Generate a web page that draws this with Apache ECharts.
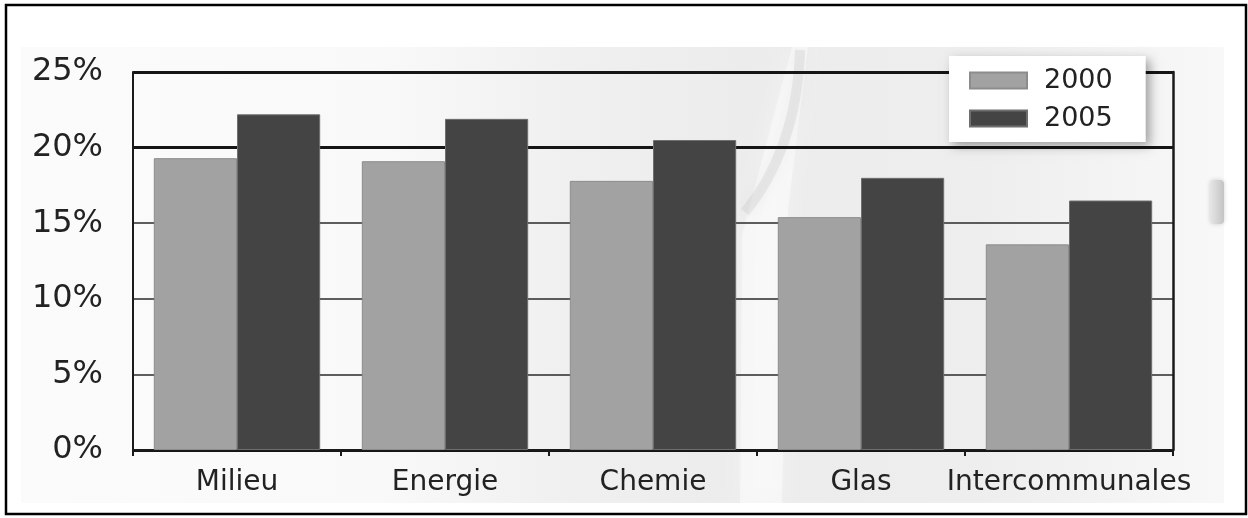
<!DOCTYPE html>
<html>
<head>
<meta charset="utf-8">
<title>2000 / 2005</title>
<script src="https://cdn.jsdelivr.net/npm/echarts@6/dist/echarts.min.js"></script>
<style>
  html, body { margin: 0; padding: 0; background: #ffffff; }
  #chart { width: 1248px; height: 518px; }
</style>
</head>
<body>
<div id="chart"></div>
<script>
// Sector categories and shares (percent) for the two years
const categories = ['Milieu', 'Energie', 'Chemie', 'Glas', 'Intercommunales'];
const share2000 = [19.3, 19.1, 17.8, 15.4, 13.6];
const share2005 = [22.2, 21.9, 20.5, 18.0, 16.5];
const seriesNames = ['2000', '2005'];

const FONT = 'DejaVu Sans';
const INK = '#222222';

const chart = echarts.init(document.getElementById('chart'), null, { renderer: 'canvas' });

chart.setOption({
  animation: false,
  backgroundColor: '#ffffff',
  textStyle: { fontFamily: FONT },
  graphic: {
    elements: [
      // soft grey backdrop panel behind the chart
      {
        type: 'rect', z: -20, silent: true,
        shape: { x: 21, y: 47, width: 1203, height: 456 },
        style: {
          fill: {
            type: 'linear', x: 0, y: 0, x2: 1, y2: 0,
            colorStops: [
              { offset: 0, color: '#fbfbfb' },
              { offset: 0.3, color: '#f9f9f9' },
              { offset: 0.45, color: '#f0f0f0' },
              { offset: 0.6, color: '#ececec' },
              { offset: 0.8, color: '#eeeeee' },
              { offset: 0.92, color: '#f4f4f4' },
              { offset: 1, color: '#f8f8f8' }
            ]
          }
        }
      },
      // light highlight band in the middle of the backdrop
      {
        type: 'polygon', z: -19, silent: true,
        shape: { points: [[792, 47], [808, 47], [788, 210], [782, 503], [740, 503], [742, 235]] },
        style: { fill: 'rgba(255,255,255,0.45)', shadowBlur: 20, shadowColor: 'rgba(255,255,255,0.7)' }
      },
      // soft darker streak curving down from the top edge
      {
        type: 'bezierCurve', z: -18, silent: true,
        shape: { x1: 800, y1: 50, x2: 745, y2: 212, cpx1: 798, cpy1: 120, cpx2: 776, cpy2: 175 },
        style: { stroke: 'rgba(175,175,175,0.2)', lineWidth: 10, fill: null, shadowBlur: 14, shadowColor: 'rgba(160,160,160,0.45)' }
      },
      // small grey patch near the right edge
      {
        type: 'rect', z: -18, silent: true,
        shape: { x: 1210, y: 180, width: 14, height: 44, r: 4 },
        style: {
          fill: {
            type: 'linear', x: 0, y: 0, x2: 1, y2: 0,
            colorStops: [{ offset: 0, color: '#e6e6e6' }, { offset: 1, color: '#c4c4c4' }]
          },
          shadowBlur: 4, shadowColor: 'rgba(180,180,180,0.6)'
        }
      },
      // black frame around the whole figure
      {
        type: 'rect', z: 100, silent: true,
        shape: { x: 6, y: 5, width: 1240, height: 509 },
        style: { fill: null, stroke: '#000000', lineWidth: 2.5 }
      }
    ]
  },
  legend: {
    data: seriesNames,
    orient: 'vertical',
    left: 949,
    top: 56,
    padding: [11, 33, 10, 20],
    itemWidth: 57,
    itemHeight: 16,
    itemGap: 11,
    icon: 'rect',
    backgroundColor: '#ffffff',
    shadowColor: 'rgba(0,0,0,0.35)',
    shadowBlur: 10,
    shadowOffsetX: 4,
    shadowOffsetY: 4,
    z: 10,
    textStyle: {
      fontFamily: FONT, fontSize: 27, color: INK,
      padding: [0, 0, 3, 12]
    }
  },
  grid: { left: 133, right: 75, top: 72, bottom: 68, containLabel: false },
  xAxis: {
    type: 'category',
    data: categories,
    boundaryGap: true,
    axisLine: { show: true, lineStyle: { color: '#1a1a1a', width: 2 } },
    axisTick: { show: true, length: 6, lineStyle: { color: '#1a1a1a', width: 2 } },
    axisLabel: { fontFamily: FONT, fontSize: 28, color: INK, margin: 19, interval: 0 },
    splitLine: { show: false }
  },
  yAxis: [
    {
      type: 'value',
      min: 0, max: 25, interval: 5,
      axisLine: { show: true, lineStyle: { color: '#1a1a1a', width: 2 } },
      axisTick: { show: false },
      axisLabel: {
        fontFamily: FONT, fontSize: 32, color: INK, margin: 30,
        formatter: function (v) { return v + '%'; }
      },
      splitLine: { show: true, lineStyle: { color: '#2a2a2a', width: 1.5 } }
    },
    {
      // right-hand frame line plus the heavier 20% and 25% rules
      type: 'value',
      position: 'right',
      min: 0, max: 25, interval: 20,
      axisLine: { show: true, lineStyle: { color: '#1a1a1a', width: 2.5 } },
      axisTick: { show: false },
      axisLabel: { show: false },
      splitLine: { show: true, lineStyle: { color: '#151515', width: 3 } }
    }
  ],
  series: [
    {
      name: seriesNames[0],
      type: 'bar',
      data: share2000,
      barGap: '0%',
      barCategoryGap: '20%',
      itemStyle: { color: '#a2a2a2', borderColor: '#8c8c8c', borderWidth: 1 }
    },
    {
      name: seriesNames[1],
      type: 'bar',
      data: share2005,
      barGap: '0%',
      barCategoryGap: '20%',
      itemStyle: { color: '#444444', borderColor: '#6e6e6e', borderWidth: 1 }
    }
  ]
});
</script>
</body>
</html>
